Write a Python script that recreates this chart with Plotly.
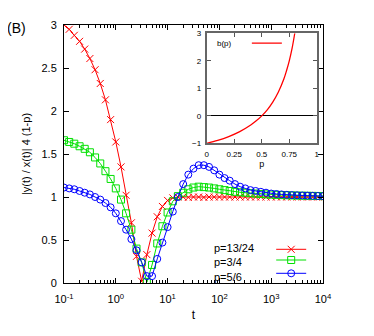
import plotly.graph_objects as go

# ---------------- data ----------------
t = [0.1, 0.126, 0.158, 0.2, 0.251, 0.316, 0.398, 0.501, 0.631, 0.794,
     1, 1.26, 1.58, 2, 2.51, 3.16, 3.98, 5.01, 6.31, 7.94,
     10, 12.6, 15.8, 20, 25.1, 31.6, 39.8, 50.1, 63.1, 79.4,
     100, 126, 158, 200, 251, 316, 398, 501, 631, 794,
     1000, 1260, 1580, 2000, 2510, 3160, 3980, 5010, 6310, 7940, 10000]

red_1324 = [3.0, 2.95, 2.88, 2.81, 2.72, 2.61, 2.48, 2.32, 2.13, 1.90,
            1.64, 1.35, 1.02, 0.70, 0.31, 0.02, 0.33, 0.58, 0.77, 0.89,
            0.96, 0.99, 1.0, 1.0, 0.995, 1.0, 1.0, 0.995, 1.0, 1.0,
            1.0, 1.0, 1.0, 1.0, 1.0, 1.0, 1.0, 1.0, 1.0, 1.0,
            1.0, 1.0, 1.0, 1.0, 1.0, 1.0, 1.0, 1.0, 1.0, 1.0, 1.0]

green_34 = [1.66, 1.64, 1.62, 1.59, 1.56, 1.52, 1.46, 1.39, 1.30, 1.21,
            1.10, 0.97, 0.81, 0.62, 0.40, 0.24, 0.01, 0.21, 0.46, 0.66,
            0.82, 0.95, 1.01, 1.05, 1.09, 1.11, 1.12, 1.115, 1.11, 1.10,
            1.09, 1.08, 1.07, 1.06, 1.055, 1.05, 1.045, 1.04, 1.035, 1.03,
            1.028, 1.025, 1.022, 1.02, 1.018, 1.016, 1.015, 1.014, 1.013, 1.012, 1.01]

blue_56 = [1.11, 1.10, 1.09, 1.07, 1.05, 1.03, 1.00, 0.97, 0.93, 0.88,
           0.81, 0.72, 0.62, 0.51, 0.38, 0.24, 0.08, 0.08, 0.28, 0.47,
           0.65, 0.83, 1.00, 1.15, 1.26, 1.33, 1.37, 1.37, 1.35, 1.31,
           1.26, 1.22, 1.19, 1.15, 1.12, 1.10, 1.08, 1.07, 1.06, 1.05,
           1.04, 1.035, 1.03, 1.025, 1.022, 1.02, 1.018, 1.016, 1.014, 1.012, 1.01]

series_names = ["p=13/24", "p=3/4", "p=5/6"]

# inset b(p)
p_vals = [0, 0.1, 0.2, 0.3, 0.4, 0.45, 0.5, 0.55, 0.6, 0.65, 0.7, 0.725, 0.75, 0.775, 0.8]
b_vals = [-1, -0.89, -0.75, -0.57, -0.33, -0.18, 0, 0.22, 0.5, 0.86, 1.33, 1.64, 2.0, 2.44, 3.0]

x_tickvals = [0.1, 1, 10, 100, 1000, 10000]
x_ticktext = ["10<sup>-1</sup>", "10<sup>0</sup>", "10<sup>1</sup>",
              "10<sup>2</sup>", "10<sup>3</sup>", "10<sup>4</sup>"]
inset_xticks = [0, 0.25, 0.5, 0.75, 1]
inset_xticktext = ["0", "0.25", "0.5", "0.75", "1"]

FONT = "Liberation Sans, Arial, Helvetica, sans-serif"
RED, GREEN, BLUE = "#ff0000", "#00e000", "#0000ff"

minor_vals = [m * 10 ** e for e in range(-1, 4) for m in range(2, 10)]

fig = go.Figure()

styles = [
    (red_1324, RED, "x-thin-open", "legend"),
    (green_34, GREEN, "square-open", "legend2"),
    (blue_56, BLUE, "circle-open", "legend3"),
]
for (ys, col, sym, lg), nm in zip(styles, series_names):
    fig.add_trace(go.Scatter(
        x=t, y=ys, mode="lines+markers", name="", legend=lg, showlegend=True,
        line=dict(color=col, width=1),
        marker=dict(symbol=sym, size=7, color=col, line=dict(color=col, width=1)),
        xaxis="x", yaxis="y", hovertext=nm,
    ))

fig.add_trace(go.Scatter(
    x=p_vals, y=b_vals, mode="lines", name="", legend="legend4", showlegend=True,
    line=dict(color=RED, width=1.3, shape="spline"), xaxis="x2", yaxis="y2",
    hovertext="b(p)",
))

leg_common = dict(bgcolor="rgba(0,0,0,0)", borderwidth=0, xanchor="left",
                  yanchor="middle", font=dict(size=12, family=FONT), itemwidth=30)
ys_leg = [0.1306, 0.0891, 0.0376]
ann = [
    dict(x=0.575, y=0.079, xref="paper", yref="paper",
         text="<br>".join(series_names), align="left",
         showarrow=False, xanchor="left", yanchor="middle", borderpad=0,
         font=dict(size=11, family=FONT, color="black")),
    dict(x=0.583, y=0.930, xref="paper", yref="paper", text="b(p)",
         showarrow=False, xanchor="left", yanchor="middle",
         font=dict(size=8, family=FONT, color="black")),
    dict(x=-0.185, y=0.99, xref="paper", yref="paper", text="(B)",
         showarrow=False, xanchor="center", yanchor="middle",
         font=dict(size=14, family=FONT, color="black")),
]

fig.update_layout(
    width=366, height=328,
    margin=dict(l=56, r=51, t=17, b=53),
    paper_bgcolor="white", plot_bgcolor="white",
    font=dict(family=FONT, size=11, color="black"),
    legend=dict(x=0.80, y=ys_leg[0], **leg_common),
    legend2=dict(x=0.80, y=ys_leg[1], **leg_common),
    legend3=dict(x=0.80, y=ys_leg[2], **leg_common),
    legend4=dict(x=0.706, y=0.930, **leg_common),
    annotations=ann,
    xaxis=dict(type="log", range=[-1, 4], tickvals=x_tickvals, ticktext=x_ticktext,
               ticks="inside", ticklen=5, tickcolor="black", showline=True,
               linecolor="black", linewidth=1, mirror="allticks", showgrid=False,
               zeroline=False, tickfont=dict(size=11), ticklabelstandoff=6,
               minor=dict(tickvals=minor_vals, ticks="inside", ticklen=3,
                          tickcolor="black", showgrid=False),
               title=dict(text="t", font=dict(size=12), standoff=6),
               automargin=False),
    yaxis=dict(range=[0, 3], dtick=0.5, tick0=0, ticks="inside", ticklen=5,
               tickcolor="black", showline=True, linecolor="black", linewidth=1,
               mirror="allticks", showgrid=False, zeroline=False,
               tickfont=dict(size=11), ticklabelstandoff=4,
               title=dict(text="|y(t) / x(t)| 4 (1-p)", font=dict(size=11), standoff=8),
               automargin=False),
    xaxis2=dict(domain=[0.551, 0.976], anchor="y2", range=[0, 1],
                tickvals=inset_xticks, ticktext=inset_xticktext,
                ticks="inside", ticklen=4, tickcolor="#555", showline=True,
                linecolor="#666", linewidth=2, mirror="allticks", showgrid=False,
                zeroline=False, tickfont=dict(size=8), ticklabelstandoff=2,
                title=dict(text="p", font=dict(size=9), standoff=2)),
    yaxis2=dict(domain=[0.541, 0.968], anchor="x2", range=[-1, 3], dtick=1,
                ticks="inside", ticklen=4, tickcolor="#555", showline=True,
                linecolor="#666", linewidth=2, mirror="allticks", showgrid=False,
                zeroline=True, zerolinecolor="black", zerolinewidth=1,
                tickfont=dict(size=8), ticklabelstandoff=2),
)

fig.write_html("out.html")
